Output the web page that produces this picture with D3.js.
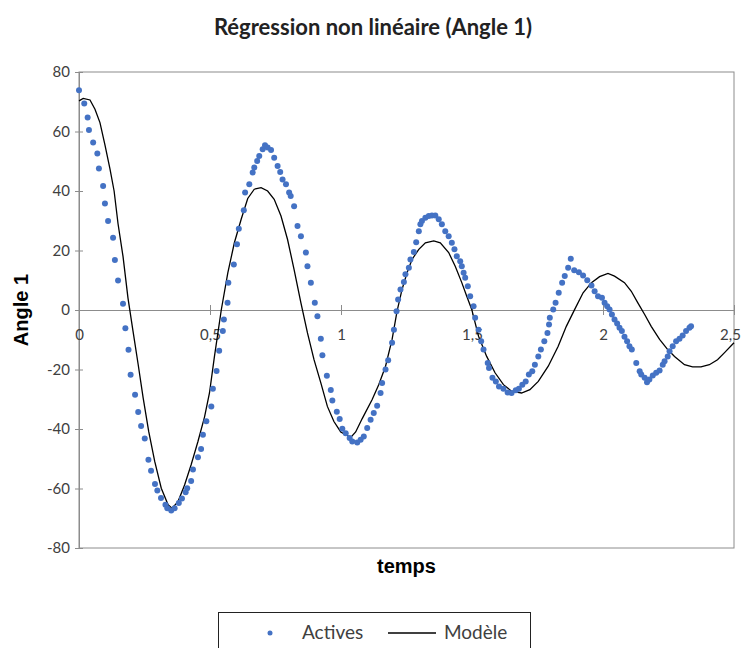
<!DOCTYPE html>
<meta charset="utf-8">
<style>
body { margin: 0; background: #fff; }
svg text { font-family: Lato, "Open Sans", sans-serif; }
.dot { fill: #4472c4; }
.model { fill: none; stroke: #000; stroke-width: 1.3px; }
.frame { fill: none; stroke: #8c8c8c; stroke-width: 1px; }
.axis path, .axis line { stroke: #8c8c8c; }
.axis text { fill: #404040; font-size: 15px; }
</style>
<svg width="743" height="648"></svg>
<script src="https://d3js.org/d3.v7.min.js"></script>
<script>
// tick values / labels
var yTicks = [-80, -60, -40, -20, 0, 20, 40, 60, 80];
var xTicks = [0, 0.5, 1, 1.5, 2, 2.5];
var xTickLabels = ["0", "0,5", "1", "1,5", "2", "2,5"];

// "Actives" : measured points (time, angle)
var actT = [0, 0.020, 0.033, 0.038, 0.054, 0.070, 0.076, 0.092, 0.099, 0.111, 0.130, 0.137, 0.149, 0.168, 0.177, 0.189, 0.197, 0.214, 0.226, 0.237,
  0.251, 0.265, 0.275, 0.290, 0.299, 0.313, 0.330, 0.337, 0.352, 0.365, 0.381, 0.393, 0.407, 0.413, 0.428, 0.435, 0.454, 0.466, 0.473, 0.486,
  0.505, 0.511, 0.525, 0.535, 0.549, 0.553, 0.567, 0.570, 0.591, 0.603, 0.610, 0.629, 0.634, 0.650, 0.663, 0.669, 0.680, 0.688, 0.701, 0.710,
  0.720, 0.733, 0.745, 0.758, 0.768, 0.777, 0.790, 0.802, 0.808, 0.821, 0.834, 0.847, 0.866, 0.872, 0.885, 0.900, 0.910, 0.923, 0.929, 0.946,
  0.961, 0.967, 0.984, 0.995, 1.005, 1.018, 1.033, 1.043, 1.062, 1.075, 1.087, 1.100, 1.113, 1.125, 1.138, 1.151, 1.157, 1.170, 1.180, 1.195,
  1.202, 1.212, 1.218, 1.227, 1.240, 1.246, 1.259, 1.265, 1.278, 1.287, 1.297, 1.303, 1.309, 1.322, 1.335, 1.347, 1.360, 1.373, 1.385, 1.398,
  1.411, 1.423, 1.433, 1.442, 1.455, 1.461, 1.468, 1.474, 1.484, 1.493, 1.506, 1.512, 1.525, 1.535, 1.544, 1.560, 1.565, 1.578, 1.591, 1.603,
  1.620, 1.636, 1.651, 1.667, 1.679, 1.692, 1.705, 1.717, 1.730, 1.740, 1.753, 1.763, 1.776, 1.788, 1.794, 1.797, 1.810, 1.819, 1.831, 1.844,
  1.854, 1.867, 1.877, 1.890, 1.908, 1.924, 1.940, 1.956, 1.968, 1.981, 1.996, 2.006, 2.016, 2.025, 2.034, 2.044, 2.054, 2.063, 2.072, 2.082,
  2.092, 2.101, 2.110, 2.127, 2.140, 2.146, 2.159, 2.168, 2.177, 2.190, 2.203, 2.216, 2.228, 2.235, 2.247, 2.254, 2.266, 2.279, 2.292, 2.304,
  2.317, 2.330, 2.336];
var actV = [73.9, 69.4, 64.7, 60.5, 56.3, 52.6, 47.6, 41.7, 35.8, 29.9, 24.3, 16.8, 9.9, 2.1, -6.1, -13.4, -21.8, -28.5, -34.3, -39,
  -43.2, -50.3, -54, -58.5, -60.7, -63.2, -65.5, -66.6, -67.4, -66.6, -64.9, -63.4, -61.3, -59.9, -57.5, -53.6, -49.5, -46.7, -41.9, -37.4,
  -32.4, -26.5, -20.5, -13.7, -7.1, -3.2, 2.4, 9.2, 15.3, 22.1, 27.3, 33.5, 39.5, 42.3, 46.2, 47.9, 50.1, 51.8, 54, 55.4,
  54.6, 53.8, 51.2, 48.4, 46.4, 43.9, 42.3, 39.5, 38.3, 34.9, 28.2, 24.8, 19.3, 14.7, 9.2, 2.4, -2.1, -9.7, -15.2, -22.1,
  -26.9, -30.4, -34.2, -36.6, -39.9, -41.4, -43, -44.2, -44.5, -43.6, -42.5, -39.7, -36.9, -34.6, -32.2, -27.9, -24.5, -20, -16.9, -11,
  -6.6, -0.4, 3.5, 6.9, 9.4, 12, 14.2, 17, 19.5, 22.8, 26.5, 28.8, 29.9, 31, 31.6, 31.8, 31.8, 30.5, 28.8, 26.5,
  24.8, 22.6, 20.4, 18.1, 16.4, 14.7, 12.5, 10.8, 8, 4.6, 1.3, -2.6, -6.6, -10.5, -13.3, -17.8, -19.5, -22.8, -24, -25.7,
  -26.5, -27.7, -27.9, -27, -26.5, -25.1, -24, -21.7, -20.6, -18.4, -15.6, -13.3, -10.5, -7.7, -4.9, -2.6, 0.2, 2.4, 5.8, 9.2,
  11.4, 14.2, 17.2, 13.4, 12.7, 11.6, 10, 8.2, 6.3, 4.6, 4.1, 2.4, 1.3, 0.2, -1.5, -3.2, -4.5, -6, -7.1, -9,
  -10.5, -12.2, -13.3, -17.8, -20.6, -21.7, -22.8, -24.3, -23.4, -22, -21.1, -20.3, -18.4, -17.2, -15.6, -13.9, -12.2, -10.5, -9.7, -8.6,
  -7.1, -6, -5.5];

// "Modèle" : fitted curve (time, angle)
var modT = [0, 0.016, 0.042, 0.061, 0.080, 0.099, 0.118, 0.134, 0.149, 0.168, 0.187, 0.206, 0.226, 0.245, 0.266, 0.289, 0.314, 0.340, 0.355, 0.378,
  0.403, 0.428, 0.454, 0.479, 0.498, 0.517, 0.543, 0.568, 0.593, 0.619, 0.644, 0.669, 0.695, 0.720, 0.745, 0.771, 0.796, 0.821, 0.847, 0.872,
  0.897, 0.923, 0.948, 0.973, 0.999, 1.037, 1.056, 1.081, 1.119, 1.144, 1.170, 1.195, 1.214, 1.233, 1.252, 1.271, 1.297, 1.322, 1.354, 1.379,
  1.411, 1.436, 1.461, 1.480, 1.499, 1.525, 1.556, 1.588, 1.620, 1.651, 1.689, 1.721, 1.753, 1.791, 1.829, 1.860, 1.892, 1.924, 1.956, 1.987,
  2.019, 2.044, 2.082, 2.108, 2.133, 2.159, 2.184, 2.216, 2.247, 2.273, 2.311, 2.342, 2.374, 2.406, 2.437, 2.463, 2.5];
var modV = [70.3, 71.1, 70.6, 67.5, 63, 55.5, 47.5, 40, 29, 18, 4, -7, -18.4, -29.6, -40.8, -50.9, -59.9, -65.5, -66.6, -64.4,
  -58.8, -52, -44.2, -36, -27.9, -15.6, 0, 12.5, 22.6, 30.5, 37.5, 40.6, 41.1, 40, 37.2, 31.6, 23.7, 13.6, 2.4, -7.7,
  -16.7, -24.5, -32.4, -37.5, -41, -42.8, -41, -36.5, -30.1, -25.1, -18.9, -9.9, -0.4, 6.9, 12.5, 17, 20.4, 22.6, 23.2, 22.6,
  19.3, 14.7, 9.2, 4.6, 0.2, -8.8, -15.6, -21.1, -25.1, -27.3, -27.9, -26.8, -24, -18.9, -12.2, -5.5, 0.2, 5.8, 9.2, 11.2,
  12.3, 11.4, 9.2, 6.3, 2.4, -1.5, -5.5, -9.9, -13.3, -15.6, -18.4, -19.1, -19.1, -18.4, -16.7, -14.4, -11];

var svg = d3.select("svg");

var x = d3.scaleLinear().domain([0, 2.5]).range([79, 734]),
    y = d3.scaleLinear().domain([-80, 80]).range([548, 72]);

// plot frame
svg.append("rect")
    .attr("class", "frame")
    .attr("x", x(0)).attr("y", y(80))
    .attr("width", x(2.5) - x(0)).attr("height", y(-80) - y(80));

// y axis (plain hyphen for negatives, like the original)
var yAxis = svg.append("g")
    .attr("class", "axis axis--y")
    .attr("transform", "translate(" + x(0) + ",0)")
    .call(d3.axisLeft(y).tickValues(yTicks).tickSize(4).tickSizeOuter(0).tickPadding(5)
      .tickFormat(function(d) { return String(d); }));
yAxis.selectAll(".tick line").attr("x1", 4);

// x axis on the zero line
var xAxis = svg.append("g")
    .attr("class", "axis axis--x")
    .attr("transform", "translate(0," + y(0) + ")")
    .call(d3.axisBottom(x).tickValues(xTicks).tickSize(5).tickSizeOuter(0).tickPadding(14)
      .tickFormat(function(d, i) { return xTickLabels[i]; }));
xAxis.selectAll(".tick line").attr("y1", -5);
xAxis.selectAll(".tick text").filter(function(d) { return d === 2.5; }).attr("dx", -4);

// model line
var line = d3.line()
    .x(function(d) { return x(d[0]); })
    .y(function(d) { return y(d[1]); });

svg.append("path")
    .datum(d3.zip(modT, modV))
    .attr("class", "model")
    .attr("d", line);

// measured points
svg.append("g").selectAll("circle")
    .data(d3.zip(actT, actV))
  .enter().append("circle")
    .attr("class", "dot")
    .attr("cx", function(d) { return x(d[0]); })
    .attr("cy", function(d) { return y(d[1]); })
    .attr("r", 3);

// title and axis titles
svg.append("text")
    .attr("x", 373).attr("y", 35)
    .attr("text-anchor", "middle")
    .style("font-size", "22px").style("font-weight", "bold").style("fill", "#222")
    .text("Régression non linéaire (Angle 1)");

svg.append("text")
    .attr("transform", "translate(28," + y(0) + ") rotate(-90)")
    .attr("text-anchor", "middle")
    .style("font-family", "'Liberation Sans', Arial, sans-serif")
    .style("font-size", "20px").style("font-weight", "bold").style("fill", "#000")
    .text("Angle 1");

svg.append("text")
    .attr("x", (x(0) + x(2.5)) / 2).attr("y", 573)
    .attr("text-anchor", "middle")
    .style("font-family", "'Liberation Sans', Arial, sans-serif")
    .style("font-size", "20px").style("font-weight", "bold").style("fill", "#000")
    .text("temps");

// legend
var legend = svg.append("g").attr("class", "legend");
legend.append("rect")
    .attr("x", 218.5).attr("y", 612.5)
    .attr("width", 312).attr("height", 45)
    .attr("fill", "#fff").attr("stroke", "#222");
legend.append("circle")
    .attr("cx", 270).attr("cy", 633).attr("r", 2.5)
    .attr("fill", "#4472c4");
legend.append("text")
    .attr("x", 302).attr("y", 639)
    .style("font-size", "19px").style("fill", "#404040")
    .text("Actives");
legend.append("line")
    .attr("x1", 388).attr("x2", 436).attr("y1", 633).attr("y2", 633)
    .attr("stroke", "#000").attr("stroke-width", 1.3);
legend.append("text")
    .attr("x", 444).attr("y", 639)
    .style("font-size", "19px").style("fill", "#404040")
    .text("Modèle");
</script>
